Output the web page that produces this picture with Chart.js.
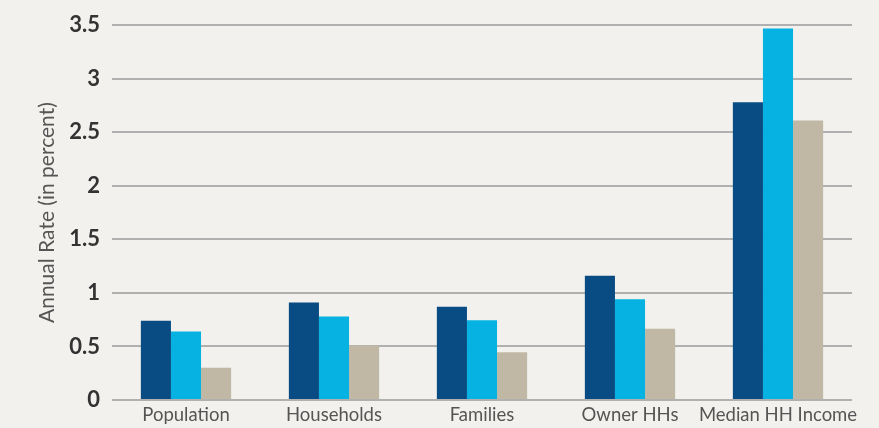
<!DOCTYPE html>
<html lang="en">
<head>
  <meta charset="UTF-8">
  <title>Annual Rate</title>
  <script src="https://cdn.jsdelivr.net/npm/chart.js"></script>
  <style>
    html, body { margin: 0; padding: 0; background: #f2f1ee; }
    #wrap { width: 879px; height: 428px; }
  </style>
</head>
<body>
  <div id="wrap"><canvas id="chart" width="879" height="428"></canvas></div>

  <script>
    const categories = ['Population', 'Households', 'Families', 'Owner HHs', 'Median HH Income'];
    const seriesA = [0.74, 0.91, 0.87, 1.16, 2.78];
    const seriesB = [0.64, 0.78, 0.745, 0.94, 3.47];
    const seriesC = [0.30, 0.51, 0.445, 0.665, 2.61];
    const yTicks = [0, 0.5, 1, 1.5, 2, 2.5, 3, 3.5];

    const ctx = document.getElementById('chart').getContext('2d');
    new Chart(ctx, {
      type: 'bar',
      data: {
        labels: categories,
        datasets: [
          { data: seriesA, backgroundColor: '#094b83' },
          { data: seriesB, backgroundColor: '#05b2e1' },
          { data: seriesC, backgroundColor: '#c0b8a4' }
        ]
      },
      options: {
        responsive: false,
        animation: false,
        layout: { padding: { top: 24, right: 27, left: 0, bottom: 0 } },
        plugins: { legend: { display: false }, tooltip: { enabled: false } },
        datasets: { bar: { categoryPercentage: 0.61, barPercentage: 1 } },
        scales: {
          x: {
            grid: { display: false },
            border: { display: false },
            ticks: {
              color: '#555',
              padding: -2,
              maxRotation: 0,
              minRotation: 0,
              autoSkip: false,
              font: { family: 'Lato', size: 18.5, lineHeight: 1 }
            },
            afterFit: s => { s.height = 28; }
          },
          y: {
            min: 0,
            max: 3.5,
            afterBuildTicks: s => { s.ticks = yTicks.map(v => ({ value: v })); },
            grid: { color: '#b0b0b0', lineWidth: 2, drawTicks: false },
            border: { display: false },
            ticks: {
              color: '#333',
              padding: 12,
              font: { family: 'Lato', size: 22, weight: 'bold' },
              callback: v => String(v)
            },
            title: {
              display: true,
              text: 'Annual Rate (in percent)',
              color: '#555',
              padding: { top: 35, bottom: 0 },
              font: { family: 'Lato', size: 21 }
            },
            afterFit: s => { s.width = 112; }
          }
        }
      }
    });
  </script>
</body>
</html>
